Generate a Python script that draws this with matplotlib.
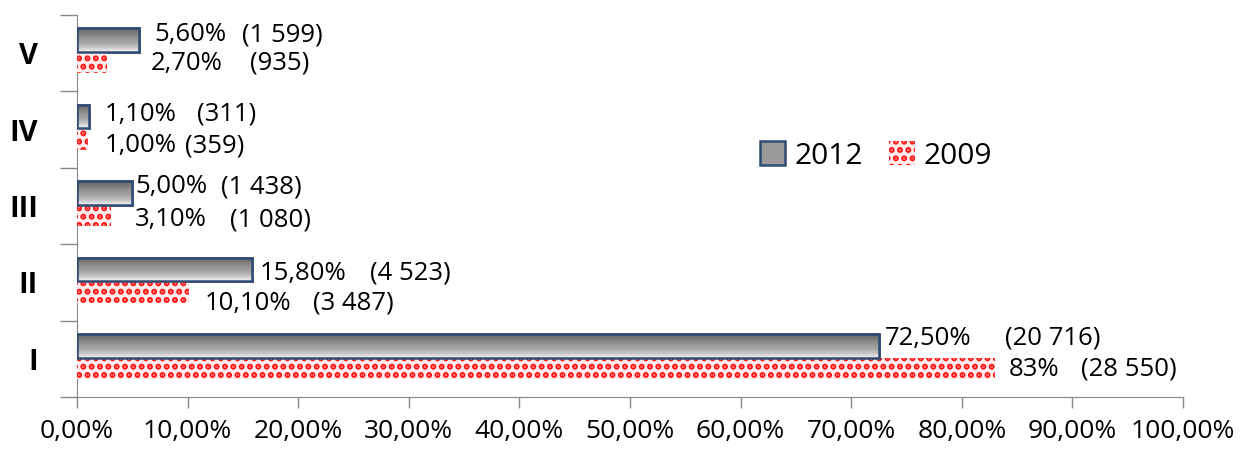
import numpy as np
import matplotlib
matplotlib.use("Agg")
import matplotlib.pyplot as plt
from matplotlib.patches import Patch
from matplotlib.colors import LinearSegmentedColormap

# ---- data ----
categories = ["I", "II", "III", "IV", "V"]
pct_2012 = [72.5, 15.8, 5.0, 1.1, 5.6]
pct_2009 = [83.0, 10.1, 3.1, 1.0, 2.7]
pct_lab_2012 = ["72,50%", "15,80%", "5,00%", "1,10%", "5,60%"]
pct_lab_2009 = ["83%", "10,10%", "3,10%", "1,00%", "2,70%"]
cnt_lab_2012 = ["(20 716)", "(4 523)", "(1 438)", "(311)", "(1 599)"]
cnt_lab_2009 = ["(28 550)", "(3 487)", "(1 080)", "(359)", "(935)"]
xticks = [0, 10, 20, 30, 40, 50, 60, 70, 80, 90, 100]
xtick_labels = ["0,00%", "10,00%", "20,00%", "30,00%", "40,00%", "50,00%",
                "60,00%", "70,00%", "80,00%", "90,00%", "100,00%"]

# label placement (offsets from bar end and gap to count label, in axis % units;
# vertical offsets from category centre in category units)
off_2012 = [0.56, 0.75, 0.24, 1.43, 1.36]
gap_2012 = [10.85, 9.94, 7.78, 8.32, 7.96]
off_2009 = [1.27, 1.47, 2.14, 1.53, 3.99]
gap_2009 = [6.51, 9.77, 8.59, 7.23, 8.95]
dy_2012 = [0.27, 0.12, 0.25, 0.20, 0.24]
dy_2009 = [-0.14, -0.27, -0.18, -0.21, -0.13]

plt.rcParams['font.family'] = ['Open Sans', 'DejaVu Sans']
plt.rcParams['hatch.linewidth'] = 3.0
fig = plt.figure(figsize=(12.58, 4.5), dpi=100)
ax = fig.add_axes([77/1258, 1 - 397/450, (1183 - 77)/1258, (397 - 15)/450])

y = np.arange(len(categories))
h12 = 0.31
h09 = 0.27
c12 = 0.17
c09 = -0.13
cmap = LinearSegmentedColormap.from_list(
    "g", ["#f4f4f4", "#c4c4c4", "#a4a4a4", "#959595", "#7a7a7a", "#6a6a6a"])

for i in range(len(categories)):
    yc = y[i] + c12
    bar = ax.barh(yc, pct_2012[i], height=h12, color="#9a9a9a",
                  edgecolor="#2f4b74", linewidth=1.8, zorder=3)[0]
    grad = np.linspace(0, 1, 100).reshape(-1, 1)
    im = ax.imshow(grad, cmap=cmap, aspect="auto",
                   extent=[0, pct_2012[i], yc + h12 / 2, yc - h12 / 2], zorder=3.5)
    im.set_clip_path(bar)
    ax.barh(yc, pct_2012[i], height=h12, fill=False,
            edgecolor="#2f4b74", linewidth=1.8, zorder=4)
    yb = y[i] + c09
    ax.barh(yb, pct_2009[i], height=h09, facecolor="#ffecec",
            edgecolor="#ff1010", linewidth=0, hatch="..", zorder=3)

ax.set_xlim(0, 100)
ax.set_ylim(-0.5, 4.5)
ax.set_xticks(xticks)
ax.set_xticklabels(xtick_labels, fontsize=19)
ax.set_yticks(y)
ax.set_yticklabels(categories, fontsize=21, fontweight="bold")
ax.set_yticks(np.arange(-0.5, 5, 1), minor=True)
ax.tick_params(axis="y", which="major", length=0, pad=28)
ax.tick_params(axis="y", which="minor", length=12, color="#888888", width=1)
ax.tick_params(axis="x", which="major", length=8, color="#888888", width=1, pad=8)
for s in ["top", "right"]:
    ax.spines[s].set_visible(False)
for s in ["left", "bottom"]:
    ax.spines[s].set_color("#888888")

fs = 18.5
for i in range(len(categories)):
    yt = y[i] + dy_2012[i]
    x0 = pct_2012[i] + off_2012[i]
    ax.text(x0, yt, pct_lab_2012[i], fontsize=fs, va="center", ha="left")
    ax.text(x0 + gap_2012[i], yt, cnt_lab_2012[i], fontsize=fs, va="center", ha="left")
    yt = y[i] + dy_2009[i]
    x0 = pct_2009[i] + off_2009[i]
    ax.text(x0, yt, pct_lab_2009[i], fontsize=fs, va="center", ha="left")
    ax.text(x0 + gap_2009[i], yt, cnt_lab_2009[i], fontsize=fs, va="center", ha="left")

handles = [Patch(facecolor="#9a9a9a", edgecolor="#2f4b74", linewidth=1.8, label="2012"),
           Patch(facecolor="#ffecec", edgecolor="#ff1010", linewidth=0, hatch="..", label="2009")]
fig.legend(handles=handles, loc="center", bbox_to_anchor=(876/1258, 1 - 156/450),
           ncol=2, frameon=False, fontsize=21.5, handlelength=0.85, handleheight=0.85,
           handletextpad=0.3, columnspacing=0.9)

fig.savefig("out.png", dpi=100)
